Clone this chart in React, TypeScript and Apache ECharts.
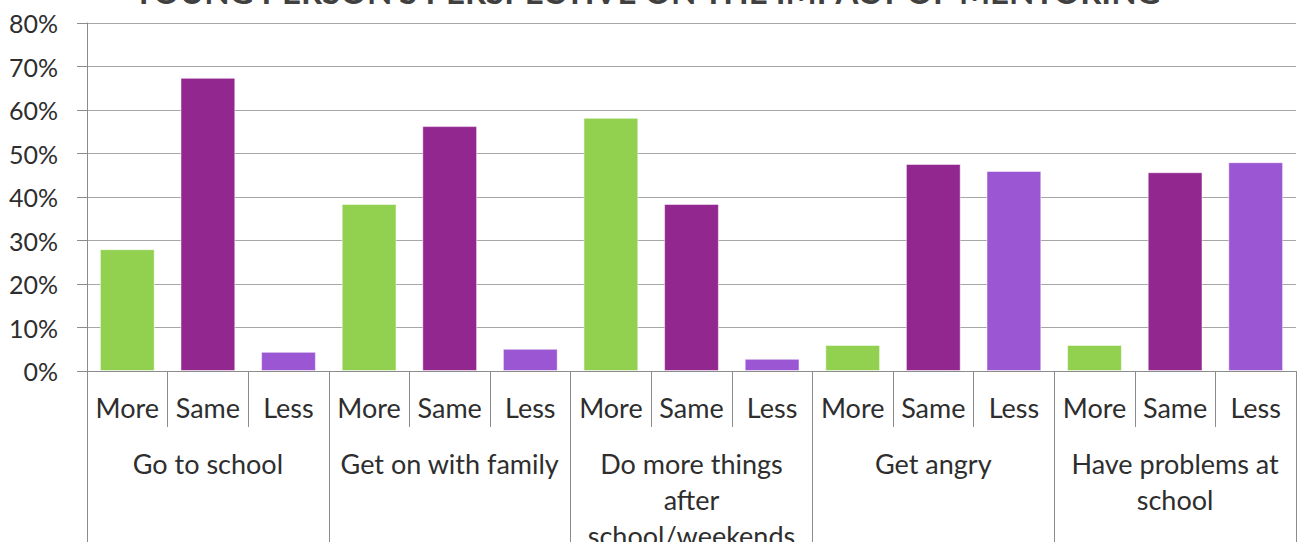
import React, { useEffect, useRef } from "react";
import * as echarts from "echarts";

const titleText = "YOUNG PERSON'S PERSPECTIVE ON THE IMPACT OF MENTORING";
const groups = [
  "Go to school",
  "Get on with family",
  "Do more things\nafter\nschool/weekends",
  "Get angry",
  "Have problems at\nschool",
];
const responses = ["More", "Same", "Less"];
const moreValues = [28.0, 38.4, 58.2, 6.0, 6.0];
const sameValues = [67.4, 56.3, 38.4, 47.6, 45.7];
const lessValues = [4.4, 5.1, 2.8, 46.0, 48.0];
const responseColors = ["#92D050", "#92278F", "#9B57D3"];
const yTicks = [0, 10, 20, 30, 40, 50, 60, 70, 80];

export default function App() {
  const ref = useRef<HTMLDivElement>(null);
  useEffect(() => {
    if (!ref.current) return;
    const chart = echarts.init(ref.current, null, { renderer: "svg" });
    const font = "Lato";
    const textColor = "#2e2e2e";
    const axisColor = "#8c8c8c";

    const cats: string[] = [];
    const data: any[] = [];
    groups.forEach((g, gi) => {
      const vals = [moreValues[gi], sameValues[gi], lessValues[gi]];
      responses.forEach((r, ri) => {
        cats.push(r);
        data.push({ value: vals[ri], itemStyle: { color: responseColors[ri] } });
      });
    });

    chart.setOption({
      animation: false,
      title: {
        text: titleText,
        left: 128,
        top: -31,
        textStyle: { fontFamily: font, fontSize: 33, fontWeight: "bold", color: "#404040" },
      },
      grid: {
        left: 87,
        right: 6,
        top: 23,
        bottom: 171,
        containLabel: false,
        outerBoundsMode: "none",
      },
      xAxis: [
        {
          type: "category",
          data: cats,
          position: "bottom",
          axisLine: { show: true, lineStyle: { color: axisColor, width: 1 } },
          axisTick: { show: true, interval: 0, length: 56, lineStyle: { color: axisColor } },
          axisLabel: { interval: 0, margin: 23, fontFamily: font, fontSize: 27, color: textColor },
        },
        {
          type: "category",
          data: groups,
          position: "bottom",
          axisLine: { show: false },
          axisTick: { show: true, interval: 0, length: 175, lineStyle: { color: axisColor } },
          axisLabel: {
            interval: 0,
            margin: 74,
            fontFamily: font,
            fontSize: 27,
            lineHeight: 36,
            color: textColor,
            align: "center",
          },
        },
      ],
      yAxis: {
        type: "value",
        min: yTicks[0],
        max: yTicks[yTicks.length - 1],
        interval: 10,
        axisLine: { show: true, lineStyle: { color: axisColor } },
        axisTick: { show: true, length: 10, lineStyle: { color: axisColor } },
        splitLine: { show: true, lineStyle: { color: "#a6a6a6", width: 1 } },
        axisLabel: {
          margin: 29,
          formatter: "{value}%",
          fontFamily: font,
          fontSize: 25,
          color: textColor,
        },
      },
      series: [
        {
          type: "bar",
          xAxisIndex: 0,
          data,
          barWidth: "68%",
          itemStyle: { borderColor: "rgba(255,255,255,0.5)", borderWidth: 1 },
        },
      ],
    });
    return () => chart.dispose();
  }, []);
  return (
    <div
      ref={ref}
      style={{ position: "fixed", left: 0, top: 0, width: 1302, height: 542, background: "#fff" }}
    />
  );
}
